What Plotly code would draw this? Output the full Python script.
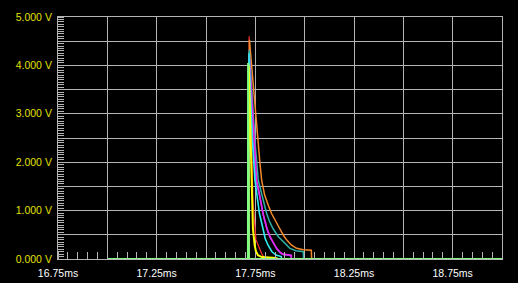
import plotly.graph_objects as go

# Tick labels
x_tick_vals = [16.75, 17.0, 17.25, 17.5, 17.75, 18.0, 18.25, 18.5, 18.75, 19.0]
x_tick_text = ["16.75ms", "", "17.25ms", "", "17.75ms", "", "18.25ms", "", "18.75ms", ""]
y_tick_vals = [0, 0.5, 1, 1.5, 2, 2.5, 3, 3.5, 4, 4.5, 5]
y_tick_text = ["0.000 V", "", "1.000 V", "", "2.000 V", "", "3.000 V", "", "4.000 V", "", "5.000 V"]

# Series (time in ms, voltage in V)
red_t = [17.0, 17.7175, 17.7186, 17.7241, 17.7302, 17.7378, 17.7530, 17.7835, 17.7987]
red_v = [0, 0, 4.6, 3.6, 2.5, 1.2, 0.4, 0.1, 0]

orange_t = [17.0, 17.7175, 17.7201, 17.7393, 17.7566, 17.7733, 17.7820, 17.7972, 17.8165,
            17.8322, 17.8733, 17.8967, 17.9139, 17.9321, 17.9595, 17.9930, 18.0336, 18.0356]
orange_v = [0, 0, 4.53, 3.56, 2.87, 1.98, 1.63, 1.32, 1.10,
            0.94, 0.63, 0.46, 0.37, 0.29, 0.22, 0.19, 0.18, 0]

teal_t = [17.0, 17.7175, 17.7191, 17.7317, 17.7470, 17.7647, 17.7835, 17.8073, 17.8215,
          17.8393, 17.8667, 17.9068, 17.9255, 17.9560, 17.9930, 17.9945]
teal_v = [0, 0, 4.32, 3.5, 2.5, 1.63, 1.32, 0.94, 0.78,
          0.63, 0.46, 0.29, 0.22, 0.17, 0.15, 0]

blue_t = [17.0, 17.7175, 17.7186, 17.7267, 17.7368, 17.7530, 17.7718, 17.7890, 17.8088,
          17.8245, 17.8479, 17.8581, 17.8750, 17.8900, 17.9306, 17.9321]
blue_v = [0, 0, 4.15, 3.5, 2.5, 1.63, 1.30, 0.93, 0.62,
          0.45, 0.28, 0.21, 0.13, 0.09, 0.07, 0]

magenta_t = [17.0, 17.7175, 17.7191, 17.7292, 17.7419, 17.7566, 17.7718, 17.7890, 17.8088,
             17.8245, 17.8479, 17.8581, 17.8750, 17.8900, 17.9321, 17.9336]
magenta_v = [0, 0, 4.2, 3.5, 2.5, 1.63, 1.32, 0.94, 0.63,
             0.46, 0.29, 0.22, 0.14, 0.10, 0.08, 0]

cyan_t = [17.0, 17.7165, 17.7175, 17.7251, 17.7343, 17.7480, 17.7581, 17.7708, 17.7886,
          17.8002, 17.8139, 17.8342, 17.8545, 17.8814, 17.8829]
cyan_v = [0, 0, 4.25, 3.5, 2.5, 1.63, 1.32, 0.94, 0.63,
          0.42, 0.29, 0.15, 0.08, 0.05, 0]

yellow_t = [17.0, 17.7150, 17.7165, 17.7226, 17.7312, 17.7328, 17.7378, 17.7464, 17.7530,
            17.7632, 17.7835, 17.8545, 17.8647]
yellow_v = [0, 0, 4.0, 3.0, 1.63, 1.32, 0.63, 0.29, 0.16,
            0.08, 0.04, 0.02, 0]

green_t = [17.0, 17.7125, 17.7135, 17.7165, 19.0]
green_v = [0, 0, 4.05, 0, 0]

series = [
    (red_t, red_v, "#ff3030", 1.2),
    (orange_t, orange_v, "#f58a2a", 1.5),
    (teal_t, teal_v, "#2fb0a8", 1.5),
    (blue_t, blue_v, "#6a6aff", 1.5),
    (magenta_t, magenta_v, "#ee22ee", 1.6),
    (cyan_t, cyan_v, "#30e8f0", 1.6),
    (yellow_t, yellow_v, "#ffff00", 2.0),
    (green_t, green_v, "#80ff80", 2.0),
]

fig = go.Figure()
for t, v, c, w in series:
    fig.add_trace(go.Scatter(x=t, y=v, mode="lines", line=dict(color=c, width=w),
                             hoverinfo="skip", showlegend=False))

grid = "#b4b4b4"
fig.update_layout(
    width=518, height=283,
    margin=dict(l=58, r=16, t=17, b=24),
    paper_bgcolor="black", plot_bgcolor="black",
    font=dict(family="Arial, Liberation Sans", size=10),
)
fig.update_xaxes(
    range=[16.75, 19.0], tickmode="array", tickvals=x_tick_vals, ticktext=x_tick_text,
    showgrid=True, gridcolor=grid, gridwidth=1, zeroline=False, automargin=False,
    showline=True, linecolor=grid, linewidth=1, mirror=True,
    ticks="", tickfont=dict(color="white", size=10.5), ticklabelstandoff=4,
    minor=dict(tick0=16.75, dtick=0.05, ticks="inside", ticklen=7, tickcolor=grid, showgrid=False),
)
fig.update_yaxes(
    range=[0, 5], tickmode="array", tickvals=y_tick_vals, ticktext=y_tick_text,
    showgrid=True, gridcolor=grid, gridwidth=1, zeroline=False, automargin=False,
    showline=True, linecolor=grid, linewidth=1, mirror=True,
    ticks="", tickfont=dict(color="#e0e000", size=10.5), ticklabelstandoff=3,
    minor=dict(tick0=0, dtick=0.05, ticks="inside", ticklen=6, tickcolor=grid, showgrid=False),
)

fig.write_html("out.html")
